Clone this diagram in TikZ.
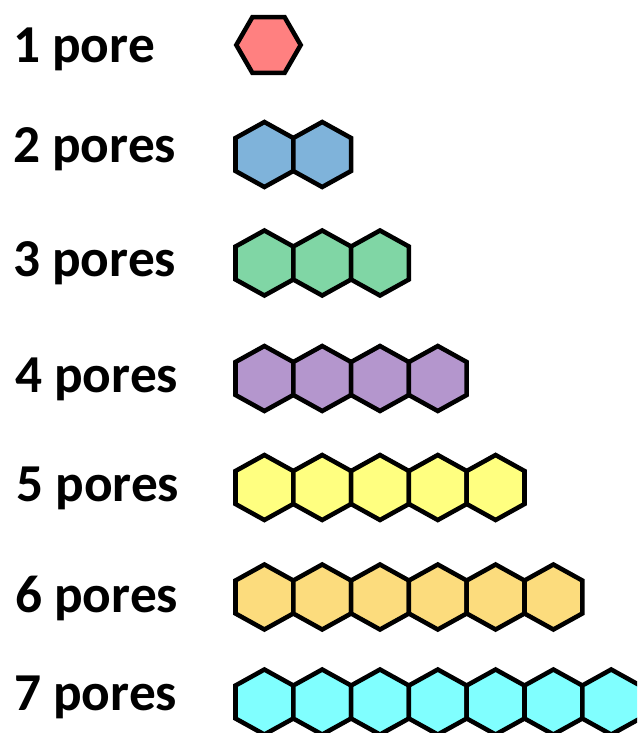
\documentclass[tikz,border=0pt]{standalone}
\usepackage{fontspec}
\setmainfont{Carlito}
\usepackage{tikz}

\definecolor{poreRed}{RGB}{255,128,128}
\definecolor{poreBlue}{RGB}{127,179,218}
\definecolor{poreGreen}{RGB}{128,214,165}
\definecolor{porePurple}{RGB}{180,150,205}
\definecolor{poreYellow}{RGB}{255,255,128}
\definecolor{poreOrange}{RGB}{252,220,125}
\definecolor{poreCyan}{RGB}{128,255,255}

\tikzset{
  countlabel/.style={anchor=base west,inner sep=0pt,font=\fontsize{40}{48}\selectfont\bfseries},
  hexcell/.style={draw=black,line width=3.4pt,line join=miter}
}

\begin{document}
\begin{tikzpicture}[x=0.75pt,y=-0.75pt]
  \clip (0,0) rectangle (637,733);
  \node[countlabel] (one)   at (13,62)  {1 pore};
  \node[countlabel] (two)   at (13,162) {2 pores};
  \node[countlabel] (three) at (13,276) {3 pores};
  \node[countlabel] (four)  at (15,392) {4 pores};
  \node[countlabel] (five)  at (16,501) {5 pores};
  \node[countlabel] (six)   at (15,612) {6 pores};
  \node[countlabel] (seven) at (14,710) {7 pores};
  \draw[hexcell,fill=poreRed] (268.5,45)
    +(0:32.2) -- +(60:32.2) -- +(120:32.2) -- +(180:32.2) -- +(240:32.2) -- +(300:32.2) -- cycle;
  \foreach \n/\yc/\col in {2/154.5/poreBlue,3/263/poreGreen,4/378.5/porePurple,
                           5/487.5/poreYellow,6/597/poreOrange,7/702/poreCyan}
    \foreach \k in {1,...,\n}
      \draw[hexcell,fill=\col] ({264.4+57.8*(\k-1)},\yc)
        +(0,-32.5) -- +(28.9,-16.5) -- +(28.9,16.5) -- +(0,32.5)
        -- +(-28.9,16.5) -- +(-28.9,-16.5) -- cycle;
\end{tikzpicture}
\end{document}
